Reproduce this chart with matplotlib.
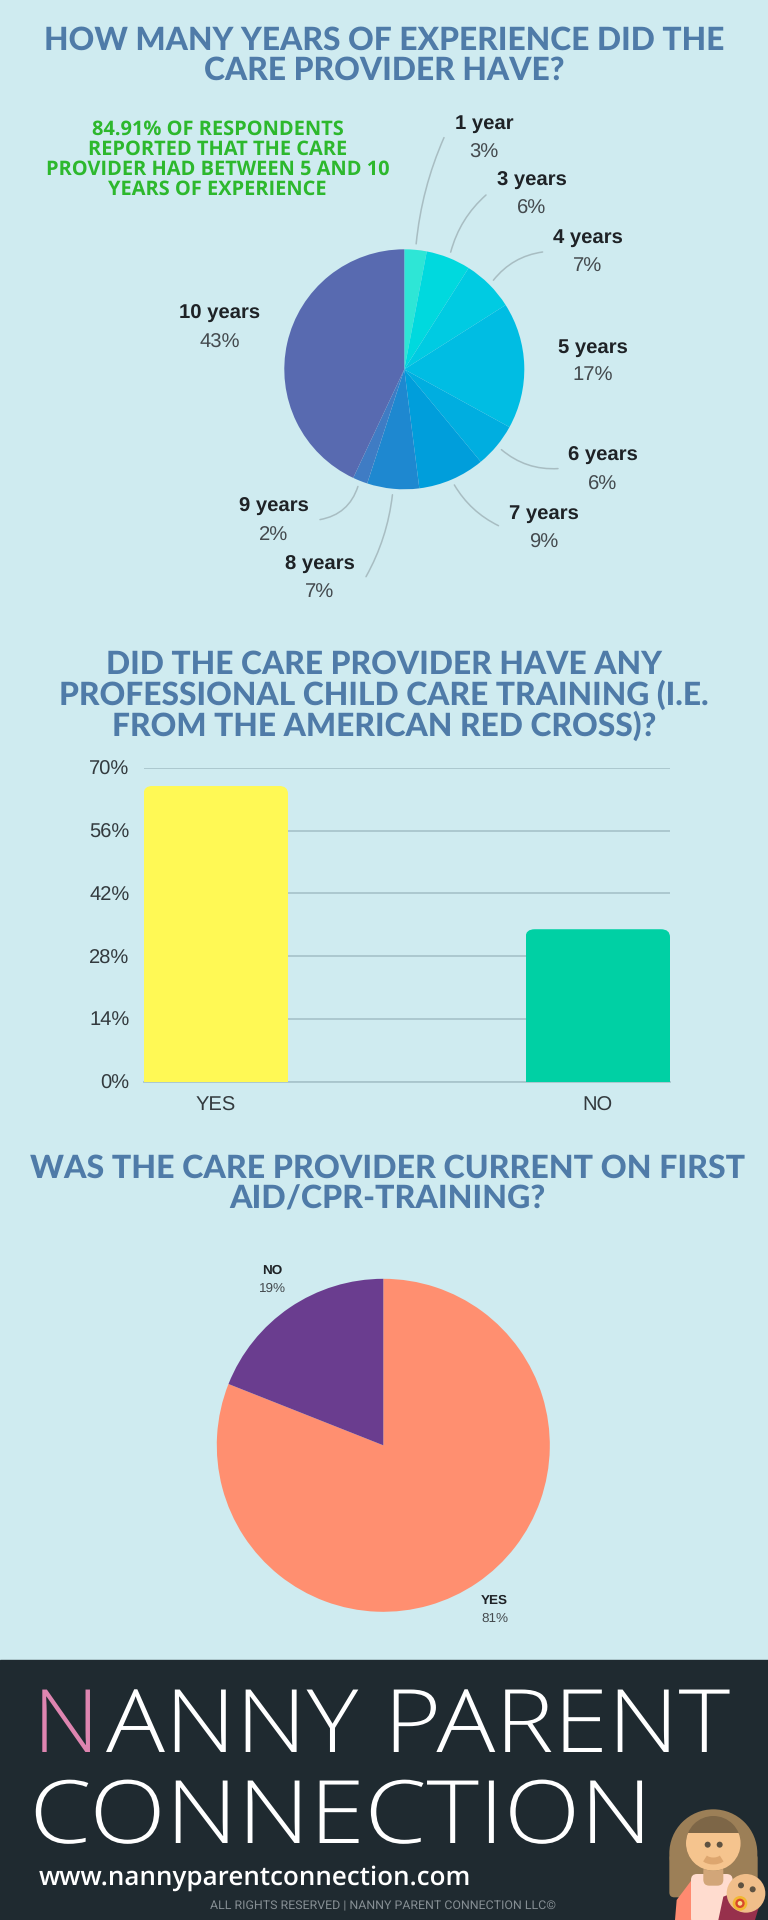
import matplotlib
matplotlib.use("Agg")
import matplotlib.pyplot as plt
from matplotlib.patches import Arc, Circle, FancyBboxPatch, Polygon, Rectangle
from matplotlib.patheffects import AbstractPathEffect
from matplotlib.transforms import Affine2D
import numpy as np

W, H = 768, 1920
BG = '#CFEBF0'
DARK = '#1F2A30'
TITLE_COLOR = '#4F7BA8'
GRID_COLOR = '#A9C5CC'
LEADER_COLOR = '#A8BDC2'

# First pie
years_labels = ['1 year', '3 years', '4 years', '5 years', '6 years', '7 years', '8 years', '9 years', '10 years']
years_values = [3, 6, 7, 17, 6, 9, 7, 2, 43]
years_colors = ['#2EE6D6', '#00D9DE', '#00CBE2', '#00BDE3', '#00AEE0', '#009EDB', '#1E88D0', '#3F7CC4', '#586AB0']

# Bar chart
train_labels = ['YES', 'NO']
train_values = [66, 34]
train_ticks = [0, 14, 28, 42, 56, 70]
train_colors = ['#FFF955', '#00D0A4']

# Second pie
cpr_labels = ['YES', 'NO']
cpr_values = [81, 19]
cpr_colors = ['#FF8F70', '#6A3D8F']

plt.rcParams['text.hinting'] = 'no_hinting'

fig = plt.figure(figsize=(W / 100, H / 100), dpi=100, facecolor=BG)

# pixel overlay for all the free text, same coords as the picture
ov = fig.add_axes([0, 0, 1, 1], zorder=5)
ov.set_xlim(0, W)
ov.set_ylim(H, 0)
ov.axis('off')


class StretchX(AbstractPathEffect):
    # the logo font is wider than anything installed, so widen the text from its left edge
    def __init__(self, sx, x0):
        super().__init__()
        self.sx = sx
        self.x0 = x0

    def draw_path(self, renderer, gc, tpath, affine, rgbFace=None):
        stretch = Affine2D().translate(-self.x0, 0).scale(self.sx, 1).translate(self.x0, 0)
        renderer.draw_path(gc, tpath, affine + stretch, rgbFace)


def axes_px(left, top, width, height):
    return fig.add_axes([left / W, 1 - (top + height) / H, width / W, height / H])


def pie_axes(cx, cy, r):
    ax = axes_px(cx - r, cy - r, 2 * r, 2 * r)
    return ax


def title(lines, x, ys, size):
    for line, y in zip(lines, ys):
        ov.text(x, y, line, ha='center', va='center', fontsize=size, color=TITLE_COLOR,
                family='Lato', weight='black')


def logo(x, y, txt, sx, color='white'):
    ov.text(x, y, txt, ha='left', va='baseline', fontsize=63, color=color, family='Open Sans',
            weight='light', path_effects=[StretchX(sx, x)])


title(['HOW MANY YEARS OF EXPERIENCE DID THE', 'CARE PROVIDER HAVE?'], 384, [40, 70.5], 22.9)
title(['DID THE CARE PROVIDER HAVE ANY', 'PROFESSIONAL CHILD CARE TRAINING (I.E.',
       'FROM THE AMERICAN RED CROSS)?'], 384, [664.5, 695, 725.5], 22.9)
title(['WAS THE CARE PROVIDER CURRENT ON FIRST', 'AID/CPR-TRAINING?'], 387.5, [1168, 1199], 23.1)

# green callout
green_lines = ['84.91% OF RESPONDENTS', 'REPORTED THAT THE CARE',
               'PROVIDER HAD BETWEEN 5 AND 10', 'YEARS OF EXPERIENCE']
for line, y in zip(green_lines, [129.5, 149.5, 169.5, 189.5]):
    ov.text(217.5, y, line, ha='center', va='center', fontsize=14.4, color='#2DB82D',
            family='Open Sans', weight='bold')

# experience pie
CX1, CY1, R1 = 404.3, 369.3, 120
ax1 = pie_axes(CX1, CY1, R1)
wedges1, _ = ax1.pie(years_values, colors=years_colors, startangle=90, counterclock=False, radius=1)
ax1.set_xlim(-1, 1)
ax1.set_ylim(-1, 1)
for w in wedges1:
    w.set_clip_on(False)

year_label_pos = [(484, 124, 153), (532, 181, 209), (588, 238, 267), (593, 347.5, 376),
                  (603, 456, 485), (544, 514, 542.5), (320, 564.5, 593), (273.5, 507, 536),
                  (220, 314, 343)]
year_leaders = [(444, 137.6, 0.08), (486, 195, 0.15), (542.6, 252, 0.2), None, (558, 468.6, -0.2),
                (498.5, 525.7, -0.15), (366, 576.7, 0.1), (320, 519.6, 0.3), None]

for name, val, pos, lead, w in zip(years_labels, years_values, year_label_pos, year_leaders, wedges1):
    ov.text(pos[0], pos[1], name, ha='center', va='center', fontsize=14.6, weight='bold',
            family='Liberation Sans', color='#1E2226')
    ov.text(pos[0], pos[2], '%d%%' % val, ha='center', va='center', fontsize=14.6,
            family='Liberation Sans', color='#444A4E')
    if lead is not None:
        mid = np.radians((w.theta1 + w.theta2) / 2)
        ax1.annotate('', xy=(1.05 * np.cos(mid), 1.05 * np.sin(mid)), xycoords='data',
                     xytext=(lead[0], lead[1]), textcoords=ov.transData, annotation_clip=False,
                     arrowprops=dict(arrowstyle='-', color=LEADER_COLOR, lw=1.1, shrinkA=0, shrinkB=0,
                                     connectionstyle='arc3,rad=%g' % lead[2]))

# training bars
ax2 = axes_px(143.6, 768, 526.4, 313.5)
ax2.set_facecolor('none')
ax2.set_xlim(-0.189, 1.189)
ax2.set_ylim(0, 70)
bars = ax2.bar(range(len(train_values)), train_values, width=0.378, color=train_colors, zorder=3)
for b in bars:
    # round only the top corners, the bottom is cut off by the axis
    clip = FancyBboxPatch((b.get_x(), -10), b.get_width(), b.get_height() + 10,
                          boxstyle='round,pad=0,rounding_size=0.024', mutation_aspect=73,
                          transform=ax2.transData)
    b.set_clip_path(clip)
ax2.set_yticks(train_ticks)
ax2.set_yticklabels(['%d%%' % t for t in train_ticks], family='Liberation Sans', fontsize=14.5, color='#333A3E')
ax2.set_xticks(range(len(train_labels)))
ax2.set_xticklabels(train_labels, family='Liberation Sans', fontsize=14.5, color='#333A3E')
ax2.tick_params(axis='both', length=0)
ax2.tick_params(axis='y', pad=10)
ax2.tick_params(axis='x', pad=10.5)
ax2.grid(axis='y', color=GRID_COLOR, lw=1.3, zorder=1)
ax2.set_axisbelow(True)
for s in ['top', 'left', 'right']:
    ax2.spines[s].set_visible(False)
ax2.spines['bottom'].set_color(GRID_COLOR)
ax2.spines['bottom'].set_linewidth(1.3)

# cpr pie
CX3, CY3, R3 = 383.3, 1445.3, 166.5
ax3 = pie_axes(CX3, CY3, R3)
wedges3, _ = ax3.pie(cpr_values, colors=cpr_colors, startangle=90, counterclock=False, radius=1)
ax3.set_xlim(-1, 1)
ax3.set_ylim(-1, 1)
for w in wedges3:
    w.set_clip_on(False)

cpr_label_pos = [(494.6, 1601, 1619), (272, 1270.5, 1288.5)]
for name, val, pos in zip(cpr_labels, cpr_values, cpr_label_pos):
    ov.text(pos[0], pos[1], name, ha='center', va='center', fontsize=9.7, weight='bold',
            family='Liberation Sans', color='#1E2226')
    ov.text(pos[0], pos[2], '%d%%' % val, ha='center', va='center', fontsize=9.7,
            family='Liberation Sans', color='#444A4E')

# footer band
ov.add_patch(Rectangle((0, 1660), W, H - 1660, color=DARK, zorder=0))
logo(33, 1752, 'N', 1.05, color='#DE85B0')
logo(106, 1752, 'ANNY PARENT', 1.122)
logo(29.5, 1843, 'CONNECTION', 1.14)
ov.text(39, 1878, 'www.nannyparentconnection.com', ha='left', va='center', fontsize=18.7, color='white',
        family='Open Sans', weight='semibold')
ov.text(210, 1906.5, 'ALL RIGHTS RESERVED | NANNY PARENT CONNECTION LLC©', ha='left', va='center',
        fontsize=8.9, color='#858E93', family='Roboto')


# little nanny picture, coords measured on a 3x crop of that corner
def zx(x):
    return 660 + x / 3


def zy(y):
    return 1800 + y / 3


def circ(x, y, r, color, z):
    c = Circle((zx(x), zy(y)), r / 3, color=color, lw=0, zorder=z)
    ov.add_patch(c)
    return c


def poly(pts, color, z):
    p = Polygon([(zx(x), zy(y)) for x, y in pts], closed=True, color=color, lw=0, zorder=z)
    ov.add_patch(p)
    return p


circ(160, 160, 132, '#9C7F57', 1)
ov.add_patch(FancyBboxPatch((zx(28), zy(160)), 265 / 3, 132 / 3, boxstyle='round,pad=0,rounding_size=5',
                            color='#9C7F57', lw=0, zorder=1))
poly([(45, 360), (50, 300), (95, 240), (110, 360)], '#FF8A70', 2)
ov.add_patch(FancyBboxPatch((zx(93), zy(222)), 125 / 3, 150 / 3, boxstyle='round,pad=0,rounding_size=6',
                            color='#FFDCCF', lw=0, zorder=2))
ov.add_patch(FancyBboxPatch((zx(130), zy(195)), 60 / 3, 62 / 3, boxstyle='round,pad=0,rounding_size=6',
                            color='#D2A679', lw=0, zorder=3))
circ(160, 130, 82, '#7D6647', 3)
face = circ(160, 130, 82, '#F5C48E', 4)
face.set_clip_path(Rectangle((zx(60), zy(100)), 200 / 3, 150 / 3, transform=ov.transData))
ov.add_patch(Arc((zx(160), zy(158)), 70 / 3, 50 / 3, theta1=35, theta2=145, color='#DDA66F', lw=5, zorder=5))
circ(143, 134, 9, '#5E5241', 5)
circ(179, 134, 9, '#5E5241', 5)
poly([(175, 360), (190, 290), (240, 270), (300, 310), (285, 360)], '#97304C', 6)
circ(258, 280, 58, '#F0BE8A', 7)
circ(243, 256, 9, '#5E5241', 8)
circ(278, 268, 9, '#5E5241', 8)
circ(240, 310, 22, '#F2B832', 8)
circ(240, 310, 14, '#D9472B', 9)
circ(240, 310, 7, '#F9E08A', 10)

fig.savefig('out.png', dpi=100, facecolor=BG)
